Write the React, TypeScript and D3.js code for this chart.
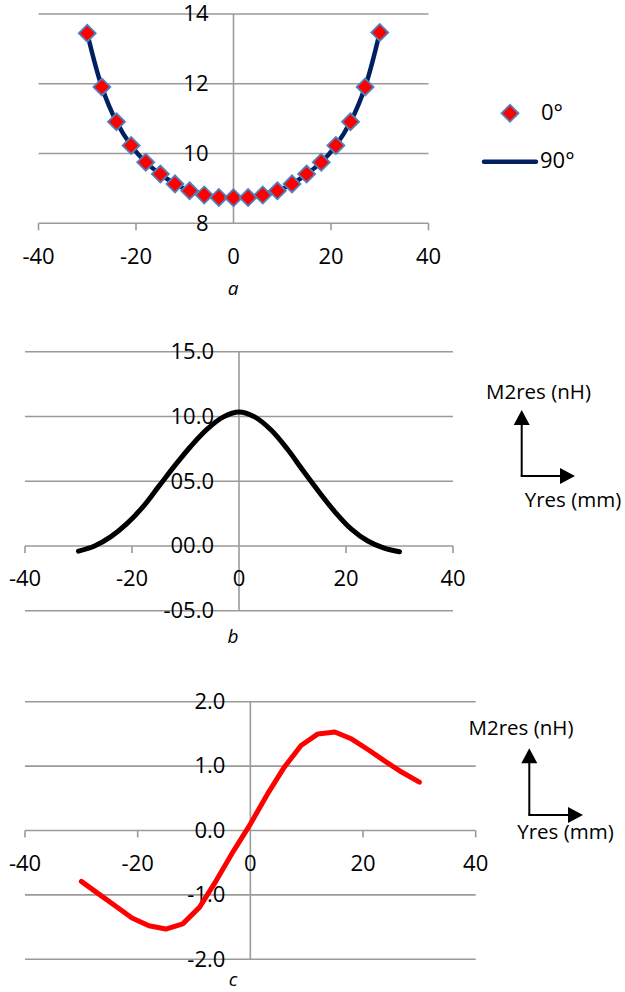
import React from "react";
import * as d3 from "d3";

// ---- Data ----
const xPositions = [-30, -27, -24, -21, -18, -15, -12, -9, -6, -3, 0, 3, 6, 9, 12, 15, 18, 21, 24, 27, 30];
const seriesA0 = [13.45, 11.91, 10.91, 10.23, 9.75, 9.41, 9.13, 8.93, 8.81, 8.74, 8.73, 8.74, 8.81, 8.93, 9.13, 9.41, 9.75, 10.23, 10.91, 11.91, 13.47];
const seriesA90 = [13.45, 11.91, 10.91, 10.23, 9.75, 9.41, 9.13, 8.93, 8.81, 8.74, 8.73, 8.74, 8.81, 8.93, 9.13, 9.41, 9.75, 10.23, 10.91, 11.91, 13.47];
const seriesB = [-0.4, 0.0, 0.7, 1.7, 3.0, 4.6, 6.2, 7.7, 9.0, 9.95, 10.35, 9.95, 8.95, 7.5, 5.8, 4.15, 2.6, 1.3, 0.4, -0.15, -0.45];
const seriesC = [-0.79, -0.98, -1.17, -1.36, -1.48, -1.53, -1.45, -1.19, -0.77, -0.32, 0.1, 0.56, 0.98, 1.32, 1.5, 1.53, 1.42, 1.25, 1.07, 0.9, 0.75];

const xTicks = [-40, -20, 0, 20, 40];
const yTicksA = [8, 10, 12, 14];
const yTickLabelsA = ["8", "10", "12", "14"];
const yTicksB = [-5, 0, 5, 10, 15];
const yTickLabelsB = ["-05.0", "00.0", "05.0", "10.0", "15.0"];
const yTicksC = [-2, -1, 0, 1, 2];
const yTickLabelsC = ["-2.0", "-1.0", "0.0", "1.0", "2.0"];
const legendLabels = ["0°", "90°"];
const captions = ["a", "b", "c"];
const axisNotes = ["M2res (nH)", "Yres (mm)"];

const FONT = "'Open Sans', 'Liberation Sans', sans-serif";
const GRID = "#9a9a9a";

type PanelProps = {
  xRange: [number, number];
  yDomain: [number, number];
  yRange: [number, number];
  yTicks: number[];
  yLabels: string[];
  xAxisValue: number;
  caption: string;
  captionY: number;
  children: (x: d3.ScaleLinear<number, number>, y: d3.ScaleLinear<number, number>) => React.ReactNode;
};

function Panel({ xRange, yDomain, yRange, yTicks, yLabels, xAxisValue, caption, captionY, children }: PanelProps) {
  const x = d3.scaleLinear().domain([-40, 40]).range(xRange);
  const y = d3.scaleLinear().domain(yDomain).range(yRange);
  const axisY = y(xAxisValue);
  const x0 = x(0);
  return (
    <g>
      {yTicks.map((t) => (
        <line key={"g" + t} x1={x(-40)} x2={x(40)} y1={y(t)} y2={y(t)} stroke={GRID} strokeWidth={1.6} />
      ))}
      <line x1={x0} x2={x0} y1={y(yDomain[0])} y2={y(yDomain[1])} stroke={GRID} strokeWidth={1.6} />
      {xTicks.filter((t) => t !== 0).map((t) => (
        <line key={"t" + t} x1={x(t)} x2={x(t)} y1={axisY} y2={axisY + 7} stroke={GRID} strokeWidth={1.6} />
      ))}
      {yTicks.map((t, i) => (
        <text key={"yl" + t} x={x0 - 25} y={y(t) + 1.5} textAnchor="end" dominantBaseline="middle" fontFamily={FONT} fontSize={22} fill="#000">
          {yLabels[i]}
        </text>
      ))}
      {xTicks.map((t) => (
        <text key={"xl" + t} x={x(t)} y={axisY + 34.5} textAnchor="middle" dominantBaseline="middle" fontFamily={FONT} fontSize={22} fill="#000">
          {t}
        </text>
      ))}
      {children(x, y)}
      <text x={233} y={captionY} textAnchor="middle" dominantBaseline="middle" fontFamily={FONT} fontStyle="italic" fontSize={19} fill="#000">
        {caption}
      </text>
    </g>
  );
}

function AxisNote({ cx, cy, top, right, textTopY, textBottomY, textX1, textX2 }: { cx: number; cy: number; top: number; right: number; textTopY: number; textBottomY: number; textX1: number; textX2: number }) {
  return (
    <g>
      <text x={textX1} y={textTopY} textAnchor="middle" dominantBaseline="middle" fontFamily={FONT} fontSize={20.5} fill="#000">
        {axisNotes[0]}
      </text>
      <line x1={cx} x2={cx} y1={cy} y2={top + 14} stroke="#000" strokeWidth={2} />
      <line x1={cx - 1} x2={right - 14} y1={cy} y2={cy} stroke="#000" strokeWidth={2} />
      <path d={`M${cx},${top} L${cx - 8},${top + 15} L${cx + 8},${top + 15} Z`} fill="#000" />
      <path d={`M${right},${cy} L${right - 15},${cy - 8} L${right - 15},${cy + 8} Z`} fill="#000" />
      <text x={textX2} y={textBottomY} textAnchor="middle" dominantBaseline="middle" fontFamily={FONT} fontSize={20.5} fill="#000">
        {axisNotes[1]}
      </text>
    </g>
  );
}

export default function App() {
  const diamond = d3.symbol(d3.symbolSquare, 144)();
  return (
    <svg width={625} height={992} style={{ position: "absolute", left: 0, top: 0, background: "#fff" }}>
      <rect width={625} height={992} fill="#fff" />
      {/* Panel a */}
      <Panel xRange={[38.5, 428.5]} yDomain={[8, 14]} yRange={[223.3, 14]} yTicks={yTicksA} yLabels={yTickLabelsA} xAxisValue={8} caption={captions[0]} captionY={290}>
        {(x, y) => {
          const line = d3.line<number>().x((_, i) => x(xPositions[i])).y((v) => y(v)).curve(d3.curveCatmullRom);
          return (
            <g>
              <path d={line(seriesA90) || ""} fill="none" stroke="#002060" strokeWidth={4.5} strokeLinejoin="round" />
              {seriesA0.map((v, i) => (
                <path key={i} d={diamond || ""} transform={`translate(${x(xPositions[i])},${y(v)}) rotate(45)`} fill="#ff0000" stroke="#4f81bd" strokeWidth={1.8} />
              ))}
            </g>
          );
        }}
      </Panel>
      {/* Legend a */}
      <path d={diamond || ""} transform="translate(510,113.3) rotate(45)" fill="#ff0000" stroke="#4f81bd" strokeWidth={1.8} />
      <text x={541} y={114} dominantBaseline="middle" fontFamily={FONT} fontSize={22} fill="#000">{legendLabels[0]}</text>
      <line x1={484} x2={536} y1={161.7} y2={161.7} stroke="#002060" strokeWidth={4.5} strokeLinecap="round" />
      <text x={540} y={162} dominantBaseline="middle" fontFamily={FONT} fontSize={22} fill="#000">{legendLabels[1]}</text>

      {/* Panel b */}
      <Panel xRange={[25, 453]} yDomain={[-5, 15]} yRange={[610.7, 351.7]} yTicks={yTicksB} yLabels={yTickLabelsB} xAxisValue={0} caption={captions[1]} captionY={638}>
        {(x, y) => {
          const line = d3.line<number>().x((_, i) => x(xPositions[i])).y((v) => y(v)).curve(d3.curveCatmullRom);
          return <path d={line(seriesB) || ""} fill="none" stroke="#000" strokeWidth={5} strokeLinecap="round" />;
        }}
      </Panel>
      <AxisNote cx={521.7} cy={476} top={410} right={575} textTopY={393.5} textBottomY={502} textX1={538.5} textX2={573} />

      {/* Panel c */}
      <Panel xRange={[25, 475.7]} yDomain={[-2, 2]} yRange={[959.3, 701.7]} yTicks={yTicksC} yLabels={yTickLabelsC} xAxisValue={0} caption={captions[2]} captionY={981}>
        {(x, y) => {
          const line = d3.line<number>().x((_, i) => x(xPositions[i])).y((v) => y(v)).curve(d3.curveLinear);
          return <path d={line(seriesC) || ""} fill="none" stroke="#ff0000" strokeWidth={5} strokeLinecap="round" strokeLinejoin="round" />;
        }}
      </Panel>
      <AxisNote cx={529.3} cy={815} top={748.3} right={583} textTopY={729.5} textBottomY={834} textX1={521} textX2={565.5} />
    </svg>
  );
}
